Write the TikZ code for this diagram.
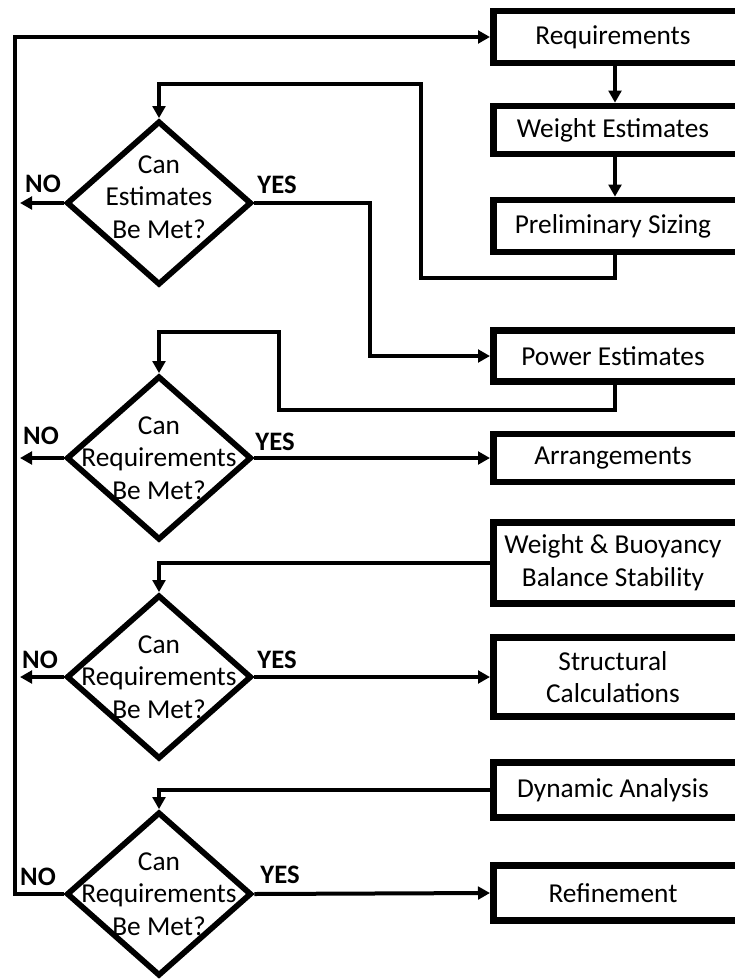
\documentclass[tikz,border=0pt]{standalone}
\usepackage{fontspec}
\setmainfont{Carlito}
\usetikzlibrary{shapes.geometric,arrows.meta}
\tikzset{
  boxnode/.style={draw, line width=5pt, minimum width=202.5pt, anchor=west, inner sep=0pt},
  dia/.style={draw, shape=diamond, line width=4.3pt, minimum width=138.75pt, minimum height=123pt, inner sep=0pt},
  txt/.style={font=\fontsize{20.5}{24.5}\selectfont, align=center, inner sep=0pt},
  lbl/.style={font=\fontsize{20}{24}\selectfont\bfseries, inner sep=0pt},
  conn/.style={line width=3pt},
  arr/.style={conn, -{Triangle[length=9pt,width=9.5pt]}}
}
\begin{document}
\begin{tikzpicture}[x=0.75pt,y=-0.75pt]
\useasboundingbox (0,0) rectangle (735,979);
\clip (0,0) rectangle (735,979);
\coordinate (ax) at (615,0);
% boxes
\node[boxnode, minimum height=39pt] (req) at (490,37) {};
\node[txt] (reqt) at (613,37) {Requirements};
\node[boxnode, minimum height=36pt] (wt) at (490,130) {};
\node[txt] (wtt) at (613,130) {Weight Estimates};
\node[boxnode, minimum height=39pt] (ps) at (490,226) {};
\node[txt] (pst) at (613,226) {Preliminary Sizing};
\node[boxnode, minimum height=38pt] (pe) at (490,356) {};
\node[txt] (pet) at (613,356) {Power Estimates};
\node[boxnode, minimum height=36pt] (ar) at (490,458) {};
\node[txt] (art) at (613,458) {Arrangements};
\node[boxnode, minimum height=61pt] (wb) at (490,563) {};
\node[txt] (wbt) at (613,563) {Weight \& Buoyancy\\Balance Stability};
\node[boxnode, minimum height=59pt] (sc) at (490,677) {};
\node[txt] (sct) at (613,677) {Structural\\Calculations};
\node[boxnode, minimum height=41pt] (da) at (490,790) {};
\node[txt] (dat) at (613,790) {Dynamic Analysis};
\node[boxnode, minimum height=41pt] (rf) at (490,893) {};
\node[txt] (rft) at (613,893) {Refinement};
% diamonds
\node[dia] (d1) at (159,203) {};
\node[txt] (d1t) at (159,197) {Can\\Estimates\\Be Met?};
\node[dia] (d2) at (159,458) {};
\node[txt] (d2t) at (159,458) {Can\\Requirements\\Be Met?};
\node[dia] (d3) at (159,677) {};
\node[txt] (d3t) at (159,677) {Can\\Requirements\\Be Met?};
\node[dia] (d4) at (159,894) {};
\node[txt] (d4t) at (159,894) {Can\\Requirements\\Be Met?};
% labels
\node[lbl] (no1) at (43,184) {NO};
\node[lbl] (yes1) at (277,185) {YES};
\node[lbl] (no2) at (41,436) {NO};
\node[lbl] (yes2) at (275,442) {YES};
\node[lbl] (no3) at (40,660) {NO};
\node[lbl] (yes3) at (277,660) {YES};
\node[lbl] (no4) at (38,877) {NO};
\node[lbl] (yes4) at (280,875) {YES};
% coordinates
\coordinate (n1) at (20,203);
\coordinate (n2) at (20,458);
\coordinate (n3) at (20,677);
\coordinate (lx) at (15,37);
% connectors
\draw[arr] (ax |- req.south) -- (ax |- wt.north);
\draw[arr] (ax |- wt.south) -- (ax |- ps.north);
\draw[arr] (ax |- ps.south) -- (615,278) -- (421,278) -- (421,84) -- (159,84) -- (d1.north);
\draw[arr] (d1.east) -- (370,203) -- (370,356) -- (pe.west);
\draw[arr] (d1.west) -- (n1);
\draw[arr] (ax |- pe.south) -- (615,410) -- (279,410) -- (279,332) -- (159,332) -- (d2.north);
\draw[arr] (d2.east) -- (ar.west);
\draw[arr] (d2.west) -- (n2);
\draw[arr] (wb.west) -- (159,563) -- (d3.north);
\draw[arr] (d3.east) -- (sc.west);
\draw[arr] (d3.west) -- (n3);
\draw[arr] (da.west) -- (159,790) -- (d4.north);
\draw[arr] (d4.east) -- (rf.west);
\draw[arr] (d4.west) -- (lx |- d4.west) -- (lx) -- (req.west);
\end{tikzpicture}
\end{document}
